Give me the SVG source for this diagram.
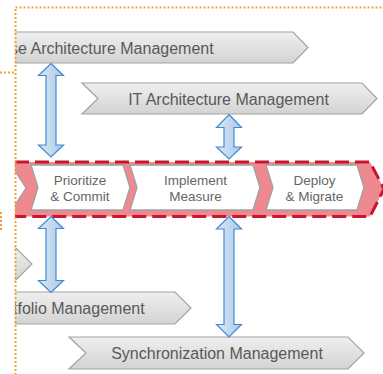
<svg xmlns="http://www.w3.org/2000/svg" width="383" height="374" viewBox="0 0 383 374">
<style>
.banner{fill:url(#gGrey);stroke:#a3a3a3;stroke-width:1.2}
.btxt{font-family:"Liberation Sans",Arial,sans-serif;font-size:16px;fill:#595959}
.chev{fill:#ffffff;stroke:#a0a0a0;stroke-width:1.3}
.ctxt{font-family:"Liberation Sans",Arial,sans-serif;font-size:13.5px;fill:#666666;text-anchor:middle}
.arrow{fill:url(#gBlue);stroke:#3f8bd3;stroke-width:1.2;stroke-linejoin:miter}
.dots{fill:none;stroke:#f4a03a;stroke-width:2;stroke-dasharray:2 2}
</style>
<defs>
<linearGradient id="gGrey" x1="0" y1="0" x2="0" y2="1">
<stop offset="0" stop-color="#efefef"/>
<stop offset="1" stop-color="#d3d3d3"/>
</linearGradient>
<linearGradient id="gBlue" x1="0" y1="0" x2="1" y2="0">
<stop offset="0" stop-color="#dce9f7"/>
<stop offset="1" stop-color="#aac8e8"/>
</linearGradient>
<clipPath id="clipL"><rect x="15" y="0" width="368" height="374"/></clipPath>
</defs>

<g id="ea-management" clip-path="url(#clipL)">
<polygon class="banner" points="10,32 293,32 308,47.5 293,63 10,63"/>
<text class="btxt" x="10" y="53.5">se Architecture Management</text>
</g>

<g id="it-architecture-management">
<polygon class="banner" points="82,83 362,83 377,98.5 362,114 82,114 98,98.5"/>
<text class="btxt" x="228.5" y="104.5" text-anchor="middle">IT Architecture Management</text>
</g>

<g id="process-band">
<polygon points="15,162 370,162 384,189 370,216.5 15,216.5" fill="#ee8a8f"/>
<path d="M15,162 H370 L384,189 L370,216.5 H15" fill="none" stroke="#c9152e" stroke-width="3" stroke-dasharray="14 6"/>
</g>

<g id="prev-step" clip-path="url(#clipL)">
<polygon class="chev" points="5,171 15,171 26,188 15,205 5,205"/>
</g>

<g id="prioritize-commit">
<polygon class="chev" points="31,165 123,165 130,187.5 123,210 31,210 38,187.5"/>
<text class="ctxt" x="80" y="185">Prioritize</text>
<text class="ctxt" x="80" y="201">&amp; Commit</text>
</g>

<g id="implement-measure">
<polygon class="chev" points="130,165 253,165 260,187.5 253,210 130,210 137,187.5"/>
<text class="ctxt" x="195.5" y="185">Implement</text>
<text class="ctxt" x="195.5" y="201">Measure</text>
</g>

<g id="deploy-migrate">
<polygon class="chev" points="266,165 357,165 364,187.5 357,210 266,210 273,187.5"/>
<text class="ctxt" x="314.5" y="185">Deploy</text>
<text class="ctxt" x="314.5" y="201">&amp; Migrate</text>
</g>

<g id="left-banner" clip-path="url(#clipL)">
<polygon class="banner" points="5,248 16,248 32,264 16,280 5,280"/>
</g>

<g id="portfolio-management" clip-path="url(#clipL)">
<polygon class="banner" points="10,292 175,292 191,308 175,324 10,324"/>
<text class="btxt" x="13" y="313.8">tfolio Management</text>
</g>

<g id="synchronization-management">
<polygon class="banner" points="69,337 348,337 364,353 348,369 69,369 86,353"/>
<text class="btxt" x="217" y="358.8" text-anchor="middle">Synchronization Management</text>
</g>

<g id="connectors">
<path class="arrow" d="M51,63.5 L63.5,75.5 L56,75.5 L56,145 L63.5,145 L51,157 L38.5,145 L46,145 L46,75.5 L38.5,75.5 Z"/>
<path class="arrow" d="M229,114.5 L241.5,127.5 L234,127.5 L234,147 L241.5,147 L229,159 L216.5,147 L224,147 L224,127.5 L216.5,127.5 Z"/>
<path class="arrow" d="M51,216.5 L63.5,228.5 L56,228.5 L56,280.5 L63.5,280.5 L51,292.5 L38.5,280.5 L46,280.5 L46,228.5 L38.5,228.5 Z"/>
<path class="arrow" d="M229,216.5 L241.5,229 L234,229 L234,324.5 L241.5,324.5 L229,337 L216.5,324.5 L224,324.5 L224,229 L216.5,229 Z"/>
</g>

<g id="boundary">
<path class="dots" d="M15.5,7.5 H383"/>
<path class="dots" d="M15.5,9 V374"/>
<path class="dots" d="M0,72.5 H14"/>
<path class="dots" d="M1,212 V232"/>
</g>
</svg>
